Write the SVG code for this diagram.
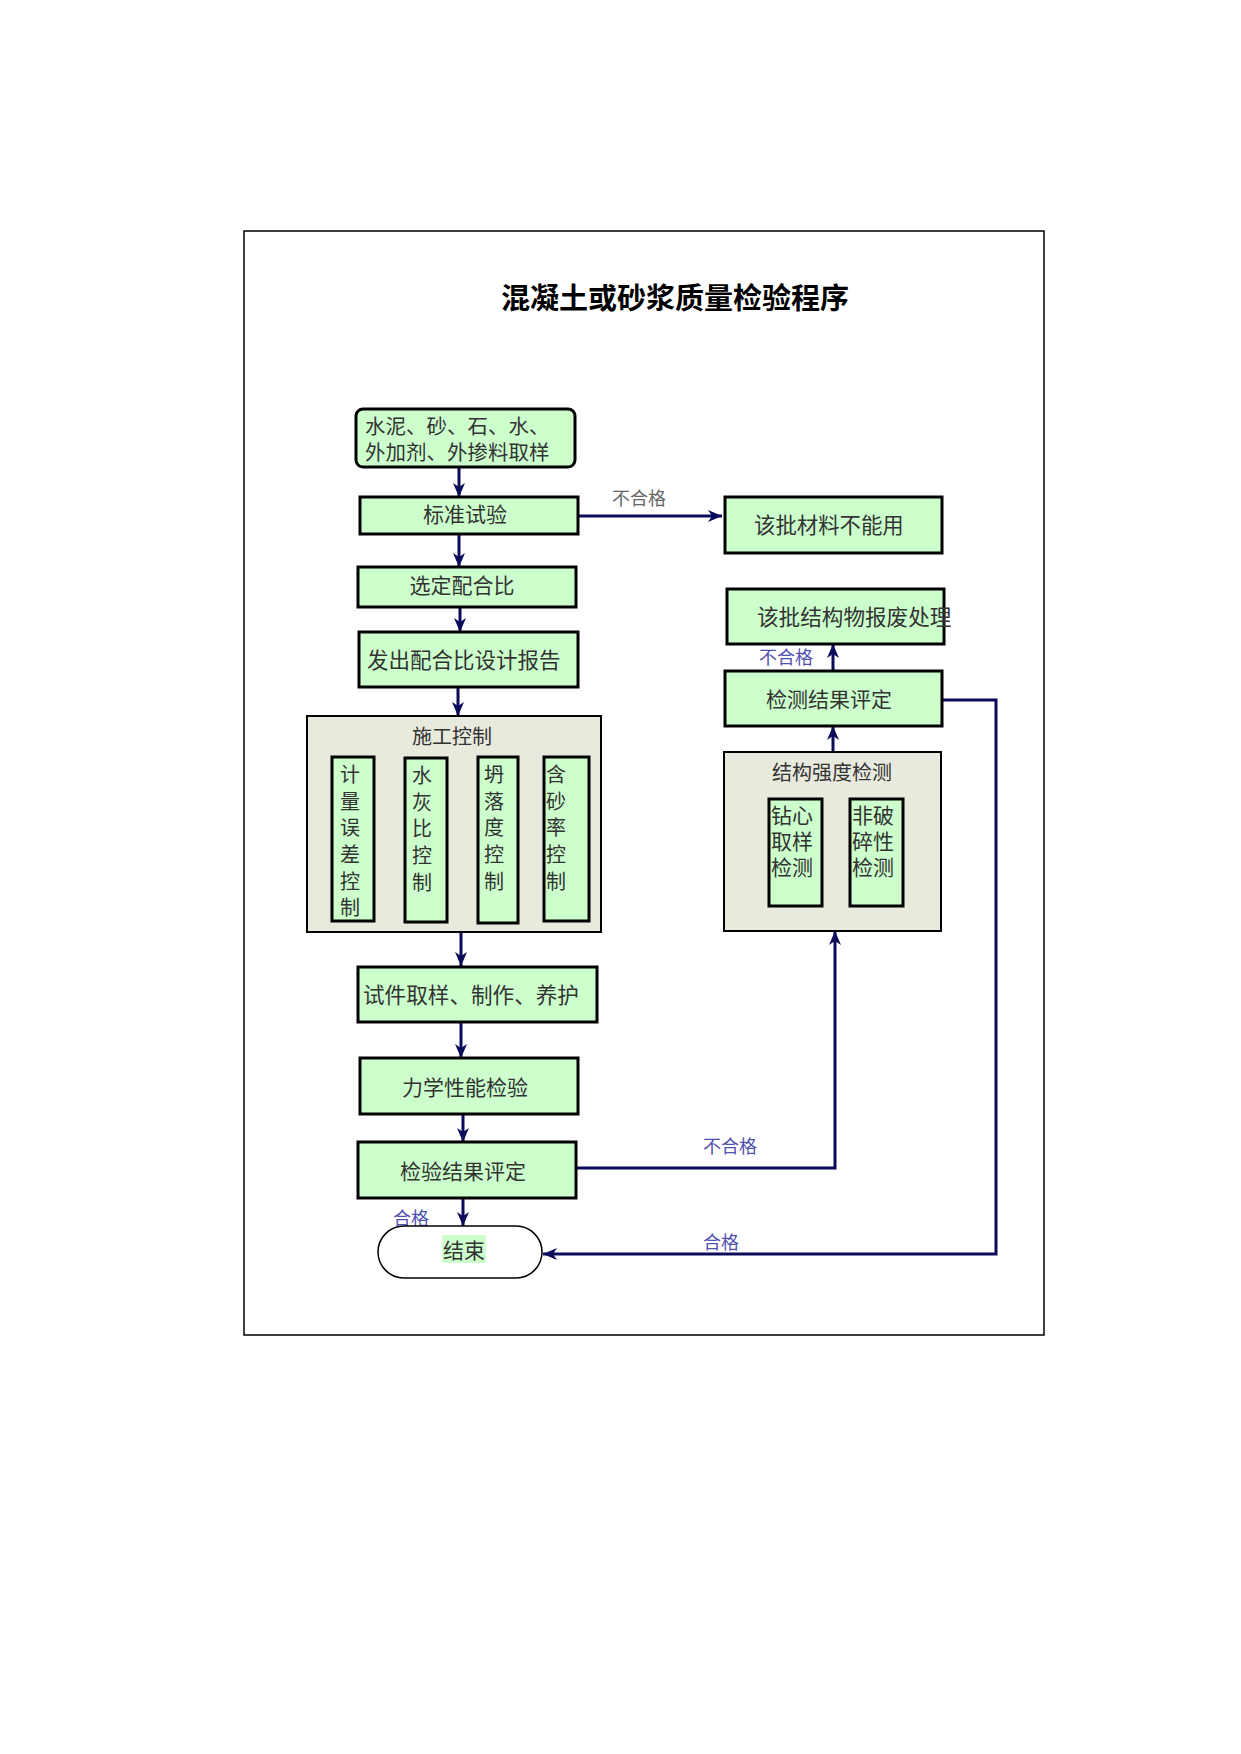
<svg xmlns="http://www.w3.org/2000/svg" width="1241" height="1754" viewBox="0 0 1241 1754">
<style>
text{font-family:"Noto Sans CJK SC","Noto Sans",sans-serif;fill:#333}
.box{fill:#ccffcc;stroke:#000;stroke-width:3}
.cont{fill:#e8eadd;stroke:#000;stroke-width:2}
.t20{font-size:20px}
.t21{font-size:21px}
.lbl{font-size:18px;fill:#5050b0}
.lblg{font-size:18px;fill:#666}
.c{text-anchor:middle}
.conn{fill:none;stroke:#0b0b5b;stroke-width:3}
</style>
<defs>
<marker id="ah" viewBox="0 -6 14 12" markerWidth="14" markerHeight="12" refX="14" refY="0" orient="auto" markerUnits="userSpaceOnUse">
<path d="M0,-6 L14,0 L0,6 L4,0 z" fill="#0b0b5b"/>
</marker>
</defs>
<rect x="0" y="0" width="1241" height="1754" fill="#fff"/>
<rect x="244" y="231" width="800" height="1104" fill="none" stroke="#000" stroke-width="1.5"/>
<text x="675" y="309" font-size="29" font-weight="bold" class="c" style="fill:#000">混凝土或砂浆质量检验程序</text>

<g id="connectors">
<path class="conn" d="M459,467 V497" marker-end="url(#ah)"/>
<path class="conn" d="M459,534 V567" marker-end="url(#ah)"/>
<path class="conn" d="M460,607 V632" marker-end="url(#ah)"/>
<path class="conn" d="M458,687 V716" marker-end="url(#ah)"/>
<path class="conn" d="M461,932 V966" marker-end="url(#ah)"/>
<path class="conn" d="M461,1022 V1058" marker-end="url(#ah)"/>
<path class="conn" d="M463,1114 V1142" marker-end="url(#ah)"/>
<path class="conn" d="M463,1198 V1226" marker-end="url(#ah)"/>
<path class="conn" d="M576,516 H722" marker-end="url(#ah)"/>
<path class="conn" d="M833,752 V726" marker-end="url(#ah)"/>
<path class="conn" d="M833,671 V644" marker-end="url(#ah)"/>
<path class="conn" d="M942,700 H996 V1254 H543" marker-end="url(#ah)"/>
<path class="conn" d="M576,1168 H835 V931" marker-end="url(#ah)"/>
<text x="612" y="505" class="lblg">不合格</text>
<text x="759" y="664" class="lbl">不合格</text>
<text x="703" y="1153" class="lbl">不合格</text>
<text x="703" y="1249" class="lbl">合格</text>
<text x="393" y="1225" class="lbl">合格</text>
</g>

<g id="n-raw">
<rect x="356" y="409" width="219" height="58" rx="7" class="box"/>
<text x="365" y="434" font-size="20.5">水泥、砂、石、水、</text>
<text x="365" y="460" font-size="20.5">外加剂、外掺料取样</text>
</g>
<g id="n-std">
<rect x="360" y="497" width="218" height="37" class="box"/>
<text x="465" y="522" class="t21 c">标准试验</text>
</g>
<g id="n-mix">
<rect x="358" y="567" width="218" height="40" class="box"/>
<text x="462" y="593" class="t21 c">选定配合比</text>
</g>
<g id="n-report">
<rect x="359" y="632" width="219" height="55" class="box"/>
<text x="367" y="668" font-size="21.5">发出配合比设计报告</text>
</g>
<g id="n-construct">
<rect x="307" y="716" width="294" height="216" class="cont"/>
<text x="452" y="744" class="t20 c">施工控制</text>
<rect x="332" y="757" width="42" height="164" class="box"/>
<text class="t20 c"><tspan x="350" y="782">计</tspan><tspan x="350" y="809">量</tspan><tspan x="350" y="835">误</tspan><tspan x="350" y="862">差</tspan><tspan x="350" y="889">控</tspan><tspan x="350" y="915">制</tspan></text>
<rect x="405" y="758" width="42" height="164" class="box"/>
<text class="t20 c"><tspan x="422" y="783">水</tspan><tspan x="422" y="810">灰</tspan><tspan x="422" y="836">比</tspan><tspan x="422" y="863">控</tspan><tspan x="422" y="890">制</tspan></text>
<rect x="478" y="757" width="40" height="166" class="box"/>
<text class="t20 c"><tspan x="494" y="782">坍</tspan><tspan x="494" y="809">落</tspan><tspan x="494" y="835">度</tspan><tspan x="494" y="862">控</tspan><tspan x="494" y="889">制</tspan></text>
<rect x="544" y="757" width="45" height="164" class="box"/>
<text class="t20 c"><tspan x="556" y="782">含</tspan><tspan x="556" y="809">砂</tspan><tspan x="556" y="835">率</tspan><tspan x="556" y="862">控</tspan><tspan x="556" y="889">制</tspan></text>
</g>
<g id="n-sample">
<rect x="358" y="967" width="239" height="55" class="box"/>
<text x="363" y="1003" font-size="21.6">试件取样、制作、养护</text>
</g>
<g id="n-mech">
<rect x="360" y="1058" width="218" height="56" class="box"/>
<text x="465" y="1095" class="t21 c">力学性能检验</text>
</g>
<g id="n-eval">
<rect x="358" y="1142" width="218" height="56" class="box"/>
<text x="463" y="1179" class="t21 c">检验结果评定</text>
</g>
<g id="n-end">
<rect x="378" y="1226" width="164" height="52" rx="26" fill="#fff" stroke="#000" stroke-width="1.5"/>
<rect x="442" y="1235" width="44" height="28" fill="#ccffcc"/>
<text x="464" y="1258" class="t21 c">结束</text>
</g>
<g id="n-reject-mat">
<rect x="725" y="497" width="217" height="56" class="box"/>
<text x="754" y="533" font-size="21.4">该批材料不能用</text>
</g>
<g id="n-reject-struct">
<rect x="727" y="589" width="217" height="55" class="box"/>
<text x="757" y="625" font-size="21.6">该批结构物报废处理</text>
</g>
<g id="n-detect-eval">
<rect x="725" y="671" width="217" height="55" class="box"/>
<text x="829" y="707" class="t21 c">检测结果评定</text>
</g>
<g id="n-strength">
<rect x="724" y="752" width="217" height="179" class="cont"/>
<text x="832" y="780" class="t20 c">结构强度检测</text>
<rect x="769" y="799" width="53" height="107" class="box"/>
<text class="t21"><tspan x="771" y="823">钻心</tspan><tspan x="771" y="849">取样</tspan><tspan x="771" y="875">检测</tspan></text>
<rect x="850" y="799" width="53" height="107" class="box"/>
<text class="t21"><tspan x="852" y="823">非破</tspan><tspan x="852" y="849">碎性</tspan><tspan x="852" y="875">检测</tspan></text>
</g>
</svg>
